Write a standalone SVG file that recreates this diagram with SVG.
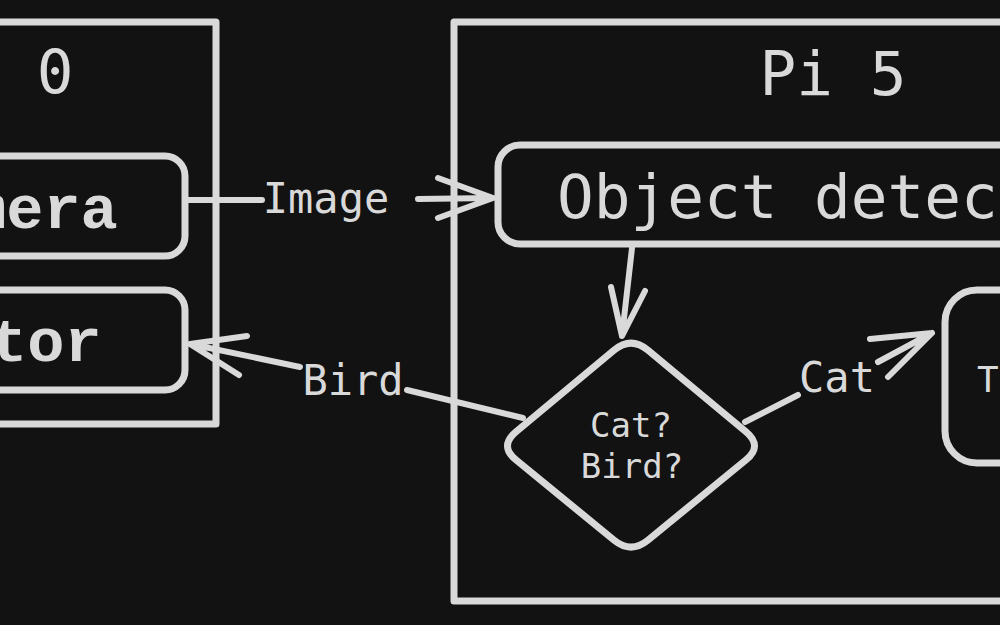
<svg xmlns="http://www.w3.org/2000/svg" width="1000" height="625" viewBox="0 0 1000 625">
<style>
.bg{fill:#121212}
.box{fill:none;stroke:#d9d9d9;stroke-width:7;stroke-linejoin:round}
.edge{fill:none;stroke:#d9d9d9;stroke-width:6;stroke-linecap:round;stroke-linejoin:round}
.t{fill:#d9d9d9;font-family:"DejaVu Sans Mono","Liberation Mono",monospace}
.big{font-size:61px}
.slab{font-family:"Liberation Mono","DejaVu Sans Mono",monospace;font-size:62px;font-weight:bold}
.lbl{font-size:42px;text-anchor:middle}
.sm{font-size:34px;text-anchor:middle}
</style>
<rect class="bg" x="0" y="0" width="1000" height="625"/>

<g id="node-left-device">
<rect class="box" x="-300" y="22" width="516" height="402"/>
<text class="t big" x="55" y="93" text-anchor="middle">0</text>
</g>
<g id="node-camera">
<rect class="box" x="-200" y="156" width="385" height="100" rx="20"/>
<text class="t slab" x="-31" y="228">mera</text>
</g>
<g id="node-motor">
<rect class="box" x="-200" y="290" width="385" height="100" rx="20"/>
<text class="t slab" x="-10" y="361">tor</text>
</g>
<g id="node-pi5">
<rect class="box" x="454" y="22" width="800" height="579"/>
<text class="t big" x="833" y="95" text-anchor="middle">Pi 5</text>
</g>
<g id="node-object-detection">
<rect class="box" x="498" y="145" width="700" height="99" rx="22"/>
<text class="t big" x="557" y="218">Object detect</text>
</g>
<g id="node-decision">
<path class="box" d="M647.9,350.1 L746.1,431.9 Q763,446 746,459.9 L648,540.1 Q631,554 614,540.1 L516,459.9 Q499,446 515.9,431.9 L614.1,350.1 Q631,336 647.9,350.1 Z"/>
<text class="t sm" x="631" y="437">Cat?</text>
<text class="t sm" x="632" y="478">Bird?</text>
</g>
<g id="node-right">
<rect class="box" x="945" y="290" width="300" height="173" rx="32"/>
<text class="t" x="977" y="392" font-size="36">T</text>
</g>

<g id="connectors">
<g id="edge-image">
<path class="edge" d="M187,200 L262,200 M418,199 L493,198 M438,178 L493,198 L438,218"/>
<text class="t lbl" x="326" y="213">Image</text>
</g>
<g id="edge-detect-decision">
<path class="edge" d="M632,248 L622,336 M611,287 L622,336 L645,291"/>
</g>
<g id="edge-bird">
<path class="edge" d="M523,418 L407,390 M300,367 L190,344 M247,336 L190,344 L239,375"/>
<text class="t lbl" x="353" y="395">Bird</text>
</g>
<g id="edge-cat">
<path class="edge" d="M745,422 L798,395 M878,362 L932,333 M870,339 L932,333 L888,377"/>
<text class="t lbl" x="837" y="392">Cat</text>
</g>
</g>
</svg>
